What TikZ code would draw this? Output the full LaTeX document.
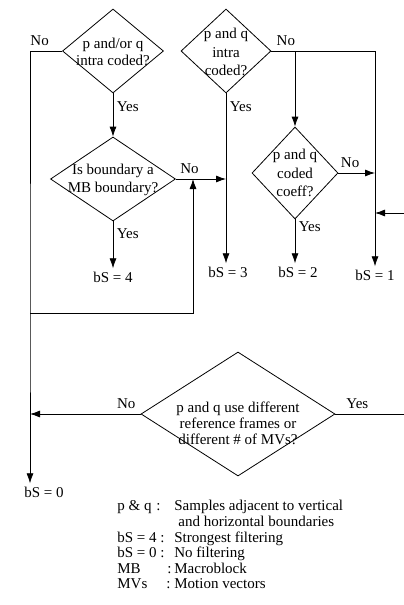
\documentclass[tikz,border=0pt]{standalone}
\usepackage{fontspec}
\setmainfont{Liberation Serif}
\usetikzlibrary{shapes.geometric,arrows.meta}

\tikzset{decision/.style={diamond, draw, inner sep=0pt, line width=0.8pt}}
\tikzset{query/.style={align=center, inner sep=0pt, font=\fontsize{15}{17.5}\selectfont}}
\tikzset{answer/.style={inner sep=1.5pt, font=\fontsize{15}{17}\selectfont}}
\tikzset{result/.style={inner sep=3pt, font=\fontsize{15}{17}\selectfont}}
\tikzset{legend/.style={align=left, inner sep=0pt, font=\fontsize{15}{15.6}\selectfont}}
\def \xrail {30}
\newcommand{\keyrow}[2]{\makebox[57pt][l]{\makebox[#1pt][l]{#2}:}}

\begin{document}
\begin{tikzpicture}[x=1pt, y=-1pt, line width=0.8pt, >={Latex[length=10pt,width=7pt]}]
    \clip (0,0) rectangle (404,605);

    % decisions
    \node[decision, minimum width=101pt, minimum height=84pt] (intra1) at (113,51) {};
    \node[query] (intra1t) at (113,52) {p and/or q\\intra coded?};
    \node[decision, minimum width=125pt, minimum height=84pt] (mbnd) at (113,179) {};
    \node[query] (mbndt) at (113,180) {Is boundary a\\MB boundary?};
    \node[decision, minimum width=90pt, minimum height=84pt] (intra2) at (226,51) {};
    \node[query, font=\fontsize{15}{18.5}\selectfont] (intra2t) at (226,52) {p and q\\intra\\coded?};
    \node[decision, minimum width=86pt, minimum height=92pt] (coef) at (295,173) {};
    \node[query, font=\fontsize{15}{18.5}\selectfont] (coeft) at (295,173) {p and q\\coded\\coeff?};
    \node[decision, minimum width=194pt, minimum height=124pt] (mvs) at (238,414) {};
    \node[query, font=\fontsize{15}{16}\selectfont] (mvst) at (238,423) {p and q use different\\reference frames or\\different \# of MVs?};

    % results
    \node[result] (bs4) at (113,277) {bS = 4};
    \node[result] (bs3) at (228,272) {bS = 3};
    \node[result] (bs2) at (298,272) {bS = 2};
    \node[result] (bs1) at (375,275) {bS = 1};
    \node[result] (bs0) at (44,492) {bS = 0};

    \coordinate (rail) at (\xrail,313);
    \coordinate (loop) at (193,313);
    \coordinate (rim) at (420,213);
    \coordinate (back) at (375,213);

    % connectors
    \draw[->] (intra1.west) -| node[answer, above=3pt, pos=0.35] (no1) {No} (rail) -- (rail |- bs0.north);
    \draw[->] (intra1.south) -- node[answer, right=2pt, pos=0.3] (yes1) {Yes} (mbnd.north);
    \draw[->] (mbnd.south) -- node[answer, right=2pt, pos=0.26] (yes2) {Yes} (bs4.north);
    \draw[->] (mbnd.east) -- node[answer, above=3pt, pos=0.27] (no2) {No} (mbnd.east -| intra2.south);
    \draw[->] (intra2.south) -- node[answer, right=2pt, pos=0.08] (yes3) {Yes} (intra2.south |- bs3.north);
    \draw[->] (intra2.east) -| node[answer, above=3pt, pos=0.07] (no3) {No} (bs1.north);
    \draw[->] (coef.north |- intra2.east) -- (coef.north);
    \draw[->] (coef.east) -- node[answer, above=3pt, pos=0.32] (no4) {No} (coef.east -| bs1.north);
    \draw[->] (coef.south) -- node[answer, right=2pt, pos=0.16] (yes4) {Yes} (coef.south |- bs2.north);
    \draw[->] (rail) -- (loop) -- (loop |- mbnd.east);
    \draw[->] (mvs.west) -- node[answer, above=3pt, pos=0.13] (no5) {No} (mvs.west -| rail);
    \draw[->] (mvs.east) -| node[answer, above=3pt, pos=0.13] (yes5) {Yes} (rim) -- (back);

    % legend
    \node[legend, anchor=north west] (key) at (117,500) {%
        \keyrow{39}{p \& q}Samples adjacent to vertical\\
        \hspace*{61pt}and horizontal boundaries\\
        \keyrow{43}{bS = 4}Strongest filtering\\
        \keyrow{43}{bS = 0}No filtering\\
        \keyrow{50}{MB}Macroblock\\
        \keyrow{49}{MVs}Motion vectors};
\end{tikzpicture}
\end{document}
